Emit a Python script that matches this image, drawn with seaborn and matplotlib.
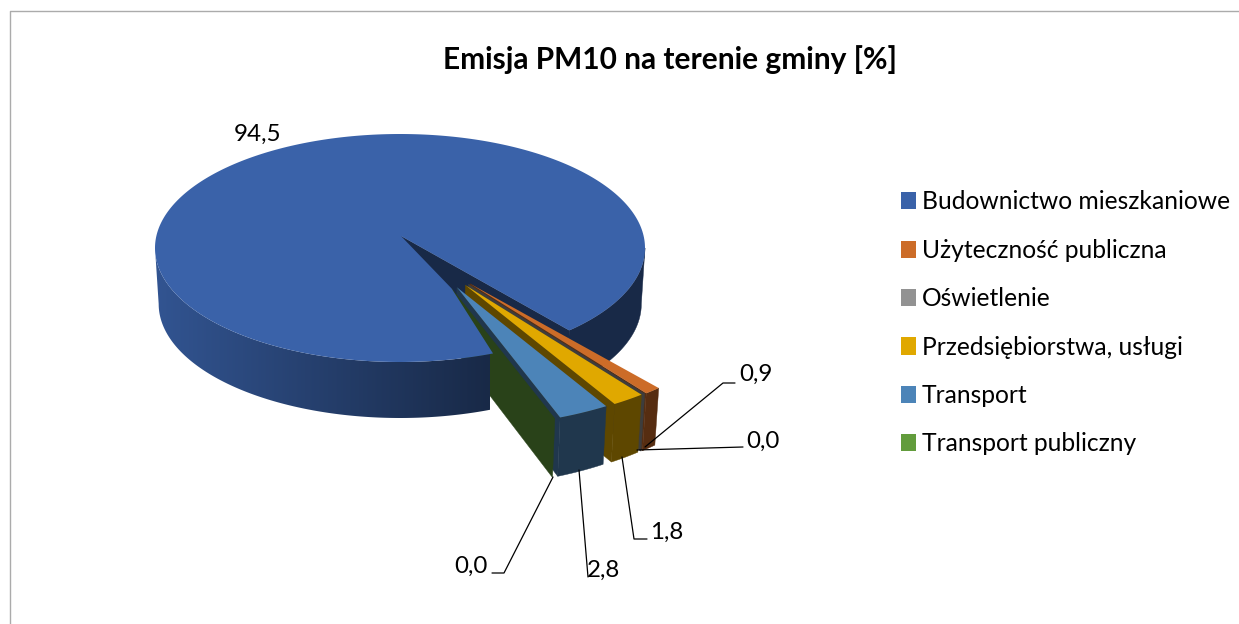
import numpy as np
import matplotlib
matplotlib.use("Agg")
import matplotlib.pyplot as plt
from matplotlib.patches import Patch, Polygon
import seaborn as sns

title = "Emisja PM10 na terenie gminy [%]"
sources = ["Budownictwo mieszkaniowe", "Użyteczność publiczna", "Oświetlenie",
           "Przedsiębiorstwa, usługi", "Transport", "Transport publiczny"]
emission = [94.5, 0.9, 0.0, 1.8, 2.8, 0.0]
hex_colors = ["#3A62A9", "#CC6C28", "#929292", "#E0A800", "#4C84B8", "#629C3C"]

# pie layout, in pixels of the figure
CX, CY, RX, RY = 400, 248, 245, 114
APEX_Y = 236
DEPTH = 56
START = 46.3
SWEEP = 3.6 * 1.08  # deg per percent, a bit wider because of the perspective
SHADE = 0.42

sns.set_theme(style="white")
plt.rcParams["font.family"] = ["Lato", "DejaVu Sans"]
colors = sns.color_palette(hex_colors)


def dark(color, k=SHADE):
    return tuple(c * k for c in color)


def arc(t, cx=CX, cy=CY, scale=1.0):
    t = np.radians(t)
    return cx + scale * RX * np.cos(t), cy + scale * RY * np.sin(t)


def down(x, y):
    # the lower rim is a little narrower than the upper one, near parts look deeper
    return CX + (x - CX) * 0.985, y + DEPTH + 0.06 * max(y - 370, 0)


def band(rim):
    return list(rim) + [down(*p) for p in reversed(rim)]


def fill(ax, pts, color, lw=0.3):
    ax.fill([p[0] for p in pts], [p[1] for p in pts], color=color, lw=lw)


def draw_back(ax):
    # right part of the wall and the cut face seen through the gap
    rim = [arc(a) for a in np.linspace(0, START, 60)]
    fill(ax, band(rim), dark(colors[0]))
    fill(ax, band([(CX + 1, APEX_Y), arc(START)]), dark(colors[0]))


def draw_front_wall(ax, t_gap_end):
    # left part of the wall, fading to the dark side
    rim = [arc(a) for a in np.linspace(t_gap_end, 180, 200)]
    shape = Polygon(band(rim), closed=True, transform=ax.transData, fc="none", ec="none")
    ax.add_patch(shape)
    xs = np.linspace(155, 490, 256)
    shades = np.interp(xs, [155, 490], [0.86, SHADE])
    row = np.array([dark(colors[0], k) for k in shades])[np.newaxis, :, :]
    im = ax.imshow(row, extent=(155, 490, 500, 200), aspect="auto", zorder=2)
    im.set_clip_path(shape)


def draw_slices(ax):
    t = START
    apex_last = None
    for value, color in zip(emission[1:], colors[1:]):
        t0, t1 = t, t + value * SWEEP
        mid = (t0 + t1) / 2
        # explosion direction and size
        e = np.radians(32 + 0.5 * mid)
        dx, dy = 0.505 * RX * np.cos(e), 0.505 * RY * np.sin(e)
        apex = (CX + 1 + dx, APEX_Y + dy)
        rim = [arc(a, CX + dx, CY + dy, 1.12) for a in np.linspace(t0, t1, 8)]
        # outer wall and left cut face
        if value > 0:
            fill(ax, band(rim), dark(color))
        fill(ax, band([apex, rim[-1]]), dark(color))
        if value > 0:
            fill(ax, [apex] + rim, color, lw=0)
        apex_last = apex
        t = t1
    return t, apex_last


fig = plt.figure(figsize=(12.39, 6.24), dpi=100)
ax = fig.add_axes([0, 0, 1, 1])

# chart frame, cut by the picture on the right and below
ax.plot([10, 10, 1239], [624, 11, 11], color="#ABABAB", lw=1.0)

t_end = START + sum(emission[1:]) * SWEEP
draw_back(ax)
t_end, last_apex = draw_slices(ax)
draw_front_wall(ax, t_end)

# top of the big slice goes over the wall of the last small one
top = [arc(a) for a in np.arange(t_end, START + 360, 1.0)] + [arc(START), (CX + 1, APEX_Y), last_apex]
ax.fill([p[0] for p in top], [p[1] for p in top], color=colors[0], lw=0, zorder=3)

ax.text(443, 60, title, fontsize=21.5, fontweight="bold", color="black",
        ha="left", va="center")

value_text = [f"{v:.1f}".replace(".", ",") for v in emission]
text_pos = [(258, 134), (756, 374), (763, 441), (667, 532), (603, 570), (471, 566)]
leaders = [None,
           [(645, 447), (723, 383), (735, 383)],
           [(637, 450), (743, 447)],
           [(622, 457), (634, 539), (647, 539)],
           [(579, 470), (588, 577)],
           [(553, 477), (504, 573), (492, 573)]]
for txt, pos, line in zip(value_text, text_pos, leaders):
    ax.text(pos[0], pos[1], txt, fontsize=17.4, color="black", ha="center", va="center")
    if line:
        ax.plot([p[0] for p in line], [p[1] for p in line], color="black", lw=0.9)

handles = [Patch(color=c, label=s, lw=0) for c, s in zip(colors, sources)]
ax.legend(handles=handles, loc="upper left", bbox_to_anchor=(894, 183),
          bbox_transform=ax.transData, frameon=False, fontsize=17.7,
          handlelength=0.61, handleheight=0.7, handletextpad=0.22,
          labelspacing=1.034, borderaxespad=0, borderpad=0.3,
          labelcolor="black")

ax.set_xlim(0, 1239)
ax.set_ylim(624, 0)
ax.axis("off")

fig.savefig("out.png", dpi=100)
